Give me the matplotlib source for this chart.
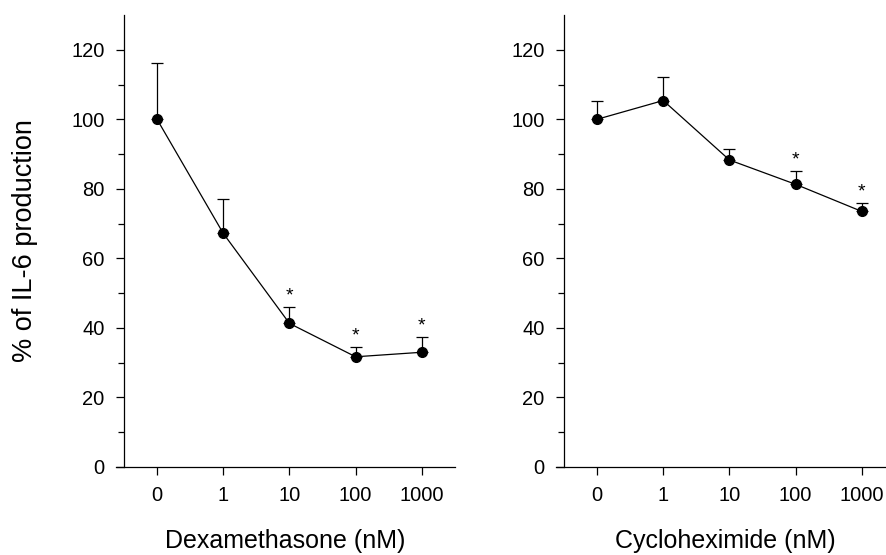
import matplotlib
matplotlib.use("Agg")
import matplotlib.pyplot as plt
from matplotlib.ticker import MultipleLocator

plt.rcParams['font.family'] = ['Liberation Sans', 'DejaVu Sans']

doses = ["0", "1", "10", "100", "1000"]

dex_mean = [100.0, 67.2, 41.3, 31.7, 33.0]
dex_err = [16.2, 9.8, 4.7, 2.7, 4.4]
dex_sig = [False, False, True, True, True]

chx_mean = [100.0, 105.4, 88.3, 81.3, 73.5]
chx_err = [5.3, 6.8, 3.1, 3.7, 2.4]
chx_sig = [False, False, False, True, True]

xlabels = ["Dexamethasone (nM)", "Cycloheximide (nM)"]
ylabel = "% of IL-6 production"

W, H = 887, 555
fig = plt.figure(figsize=(W / 100, H / 100), dpi=100)

px_per_cat = 66.2
xmin, xmax = -0.62, 4.5
ax_w = (xmax - xmin) * px_per_cat / W
bottom = (H - 467) / H
height = (467 - 15) / H

axes = [fig.add_axes([116 / W, bottom, ax_w, height]),
        fig.add_axes([556 / W, bottom, ax_w, height])]

datasets = [(dex_mean, dex_err, dex_sig), (chx_mean, chx_err, chx_sig)]

for i, (ax, (m, e, s), xl) in enumerate(zip(axes, datasets, xlabels)):
    x = list(range(len(doses)))
    ax.plot(x, m, color='black', lw=0.9, zorder=2)
    ax.errorbar(x, m, yerr=[[0] * len(e), e], fmt='none', ecolor='black',
                elinewidth=0.9, capsize=4, capthick=0.9, zorder=1)
    ax.plot(x, m, 'o', color='black', markersize=7, zorder=3)
    for xi, mi, ei, si in zip(x, m, e, s):
        if si:
            ax.annotate('*', xy=(xi, mi + ei), xytext=(0, 8),
                        textcoords='offset points', ha='center', va='center',
                        fontsize=14)
    ax.set_xlim(xmin, xmax)
    ax.set_ylim(0, 130)
    ax.set_xticks(x)
    ax.set_xticklabels(doses)
    ax.set_yticks(range(0, 121, 20))
    ax.set_yticks([10, 30, 50, 70, 90, 110], minor=True)
    ax.spines['top'].set_visible(False)
    ax.spines['right'].set_visible(False)
    ax.spines['left'].set_position(('data', -0.5))
    for sp in ['left', 'bottom']:
        ax.spines[sp].set_linewidth(0.9)
    ax.tick_params(axis='both', which='major', direction='out', length=6,
                   width=0.9, labelsize=14.5, pad=8)
    ax.tick_params(axis='y', which='minor', direction='out', length=4.5,
                   width=0.9)
    ax.set_xlabel(xl, fontsize=18, labelpad=17)
    if i == 0:
        ax.set_ylabel(ylabel, fontsize=19.5, labelpad=24)

fig.savefig("out.png", dpi=100)
